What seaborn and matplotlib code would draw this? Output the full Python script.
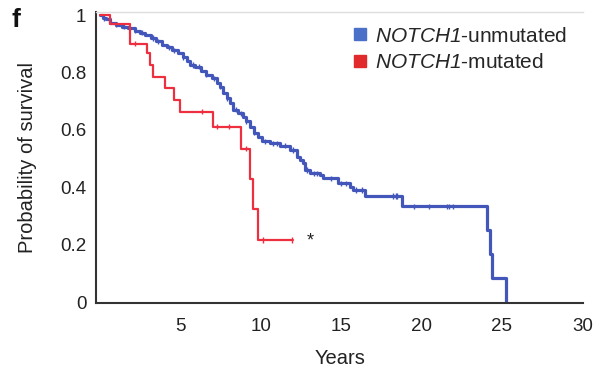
import numpy as np
import pandas as pd
import matplotlib
matplotlib.use("Agg")
import matplotlib.pyplot as plt
import seaborn as sns
from matplotlib.lines import Line2D

# ---- data ----
unmut_time = [0, 0.2, 0.4, 0.65, 1.0, 1.4, 1.79, 2.2, 2.5, 2.83, 3.2, 3.5, 3.86,
              4.2, 4.5, 4.89, 5.2, 5.4, 5.62, 5.93, 6.3, 6.6, 6.97, 7.28, 7.45,
              7.69, 7.9, 8.11, 8.31, 8.6, 8.93, 9.1, 9.35, 9.6, 9.85, 10.07,
              10.59, 11.21, 11.83, 12.25, 12.45, 12.66, 12.76, 13.07, 13.70,
              13.90, 14.83, 15.56, 15.76, 16.49, 18.77, 24.05, 24.25, 24.36, 25.25]
unmut_surv = [1.0, 0.99, 0.985, 0.973, 0.966, 0.960, 0.954, 0.945, 0.938, 0.930,
              0.920, 0.908, 0.896, 0.888, 0.877, 0.867, 0.853, 0.840, 0.826, 0.820,
              0.806, 0.793, 0.780, 0.765, 0.750, 0.728, 0.710, 0.693, 0.670, 0.658,
              0.646, 0.630, 0.611, 0.590, 0.575, 0.560, 0.554, 0.545, 0.530, 0.507,
              0.496, 0.484, 0.461, 0.449, 0.443, 0.432, 0.415, 0.403, 0.391, 0.370,
              0.335, 0.252, 0.168, 0.084, 0.0]
unmut_censor = [0.3, 1.0, 1.5, 2.2, 2.6, 3.3, 3.6, 4.3, 4.6, 5.2, 5.8, 6.2, 6.6,
                7.1, 7.5, 7.9, 8.5, 8.8, 9.1, 9.6, 10.3, 10.8, 11.0, 11.5, 12.0,
                12.9, 13.3, 13.5, 14.4, 15.0, 15.3, 15.9, 16.3, 18.2, 18.4, 18.5,
                19.55, 20.47, 21.56, 21.73, 21.97]

mut_time = [0, 0.65, 1.9, 2.93, 3.14, 3.32, 4.07, 4.63, 5.0, 7.05, 8.76, 9.35,
            9.53, 9.86, 12.0]
mut_surv = [1.0, 0.969, 0.90, 0.867, 0.826, 0.785, 0.746, 0.704, 0.664, 0.611,
            0.535, 0.43, 0.325, 0.217, 0.217]
mut_censor = [2.2, 6.35, 7.3, 8.05, 9.1, 10.15, 11.95]

groups = ["NOTCH1-unmutated", "NOTCH1-mutated"]
colors = {"NOTCH1-unmutated": "#4356b9", "NOTCH1-mutated": "#ee2f40"}
legend_colors = ["#4a70c8", "#e02a2c"]
x_ticks = [0, 5, 10, 15, 20, 25, 30]
x_ticklabels = ["", "5", "10", "15", "20", "25", "30"]
y_ticks = [0, 0.2, 0.4, 0.6, 0.8, 1.0]
y_ticklabels = ["0", "0.2", "0.4", "0.6", "0.8", "1"]

# ---- tables ----
curves = pd.concat([
    pd.DataFrame({"time": unmut_time, "surv": unmut_surv, "group": groups[0]}),
    pd.DataFrame({"time": mut_time, "surv": mut_surv, "group": groups[1]}),
], ignore_index=True)

def surv_at(times, tt, ss):
    idx = np.searchsorted(np.asarray(tt), np.asarray(times), side="right") - 1
    return np.asarray(ss)[idx]

cens = pd.concat([
    pd.DataFrame({"time": unmut_censor,
                  "surv": surv_at(unmut_censor, unmut_time, unmut_surv),
                  "group": groups[0]}),
    pd.DataFrame({"time": mut_censor,
                  "surv": surv_at(mut_censor, mut_time, mut_surv),
                  "group": groups[1]}),
], ignore_index=True)

# ---- style ----
sns.set_style("white")
plt.rcParams["font.family"] = ["Liberation Sans", "DejaVu Sans"]
plt.rcParams["mathtext.fontset"] = "custom"
# math text is only used for the italic gene name, so the upright slot is italic too
plt.rcParams["mathtext.rm"] = "Liberation Sans:italic"
plt.rcParams["mathtext.it"] = "Liberation Sans:italic"

fig = plt.figure(figsize=(5.97, 3.69), dpi=100)
ax = fig.add_axes([0.161, 0.179, 0.816, 0.788])

sub_u = curves[curves.group == groups[0]]
sub_m = curves[curves.group == groups[1]]
sns.lineplot(data=sub_u, x="time", y="surv", ax=ax, color=colors[groups[0]],
             drawstyle="steps-post", estimator=None, sort=False, lw=2.3, legend=False)
sns.lineplot(data=sub_m, x="time", y="surv", ax=ax, color=colors[groups[1]],
             drawstyle="steps-post", estimator=None, sort=False, lw=1.6, legend=False)
sns.scatterplot(data=cens, x="time", y="surv", hue="group", palette=colors,
                marker="|", s=14, linewidth=1.0, ax=ax, legend=False)

ax.set_xlim(-0.22, 30.05)
ax.set_ylim(-0.002, 1.01)
ax.set_xticks(x_ticks)
ax.set_xticklabels(x_ticklabels)
ax.set_yticks(y_ticks)
ax.set_yticklabels(y_ticklabels)
ax.tick_params(axis="both", direction="out", length=4, width=1.2, color="#333333",
               labelsize=13.5, labelcolor="#222222", pad=3)
ax.tick_params(axis="x", pad=7)
for s in ["left", "bottom"]:
    ax.spines[s].set_color("#333333")
    ax.spines[s].set_linewidth(1.5)
ax.spines["right"].set_visible(False)
ax.spines["top"].set_color("#dddddd")
ax.spines["top"].set_linewidth(1.0)

ax.set_xlabel("Years", fontsize=14.5, color="#222222", labelpad=10)
ax.set_ylabel("Probability of survival", fontsize=14.5, color="#222222", labelpad=17)

ax.text(13.1, 0.215, "*", fontsize=13, color="#222222", ha="center", va="center")
fig.text(0.02, 0.947, "f", fontsize=19, fontweight="bold", color="#111111",
         ha="left", va="center")

handles = [Line2D([], [], marker="s", linestyle="none", markersize=8,
                  markerfacecolor=legend_colors[i], markeredgecolor=legend_colors[i])
           for i in range(2)]
labels = [r"$\mathrm{NOTCH1}$-unmutated", r"$\mathrm{NOTCH1}$-mutated"]
ax.legend(handles, labels, loc="upper left", bbox_to_anchor=(0.497, 1.0),
          frameon=False, fontsize=15, handlelength=0.7, handletextpad=0.35,
          labelspacing=0.35, borderaxespad=0.3)

fig.savefig("out.png", dpi=100)
